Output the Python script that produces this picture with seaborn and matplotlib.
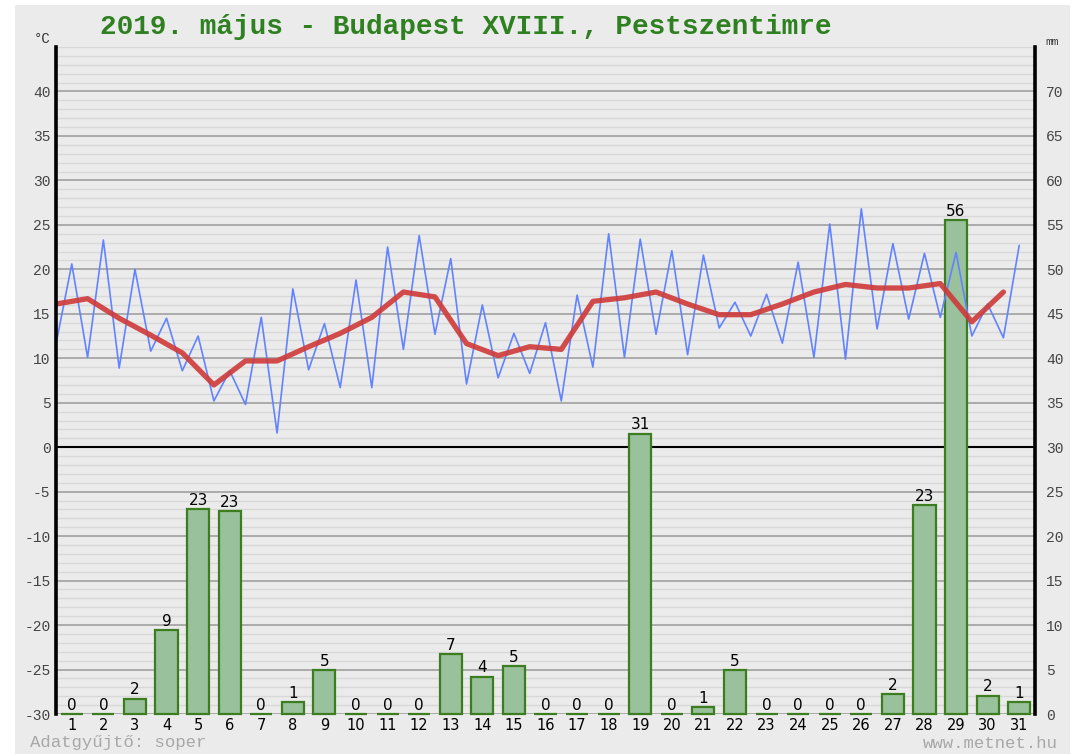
import numpy as np
import seaborn as sns
import matplotlib.pyplot as plt
from matplotlib.patches import Rectangle
from matplotlib.ticker import MultipleLocator

days = np.arange(1, 32)
# daily minimum / maximum temperature (°C)
tmin = [11.6, 10.1, 8.9, 10.8, 8.6, 5.2, 4.8, 1.6, 8.7, 6.7, 6.7, 11.0, 12.7, 7.1, 7.8, 8.3,
        5.2, 9.0, 10.1, 12.7, 10.4, 13.4, 12.5, 11.7, 10.1, 9.9, 13.3, 14.4, 14.6, 12.5, 12.3]
tmax = [20.6, 23.3, 20.0, 14.5, 12.5, 8.6, 14.6, 17.8, 13.9, 18.8, 22.5, 23.8, 21.2, 16.0, 12.8, 14.0,
        17.1, 24.0, 23.4, 22.1, 21.6, 16.3, 17.2, 20.8, 25.1, 26.8, 22.9, 21.8, 21.9, 16.1, 22.7]
# daily mean temperature (°C)
tmean = [16.1, 16.7, 14.5, 12.6, 10.6, 7.0, 9.7, 9.7, 11.3, 12.8, 14.6, 17.45, 16.9, 11.65, 10.3, 11.3,
         11.0, 16.4, 16.8, 17.45, 16.1, 14.9, 14.9, 16.1, 17.45, 18.3, 17.9, 17.9, 18.4, 14.1, 17.45]
# precipitation (mm)
precip = [0, 0, 1.7, 9.4, 23.0, 22.8, 0, 1.3, 4.9, 0, 0, 0, 6.7, 4.2, 5.4, 0,
          0, 0, 31.5, 0, 0.75, 4.9, 0, 0, 0, 0, 2.25, 23.5, 55.5, 2.05, 1.3]
precip_labels = ['0', '0', '2', '9', '23', '23', '0', '1', '5', '0', '0', '0', '7', '4', '5', '0',
                 '0', '0', '31', '0', '1', '5', '0', '0', '0', '0', '2', '23', '56', '2', '1']

sns.set_style('white')
plt.rcParams['font.family'] = ['DejaVu Sans']
mono = 'Liberation Mono'
bg = '#ebebeb'

fig = plt.figure(figsize=(10.82, 7.54), dpi=100)
fig.patch.set_facecolor('white')
fig.add_artist(Rectangle((15 / 1082, 0), 1055 / 1082, 749 / 754, transform=fig.transFigure,
                         facecolor=bg, edgecolor='none', zorder=-10))

ax = fig.add_axes([56 / 1082, 40 / 754, 979 / 1082, 667 / 754])
ax.set_facecolor(bg)

# precipitation bars (right axis, mm)
sns.barplot(x=days, y=precip, native_scale=True, ax=ax, width=0.7, color='#99c19b',
            saturation=1, edgecolor='#3b7d1f', linewidth=1.6, errorbar=None)
for p in ax.containers[0]:
    p.set_clip_on(False)
ax.bar_label(ax.containers[0], labels=precip_labels, padding=1, fontsize=11, color='black')
ax.set_ylim(0, 75)
ax.set_xlim(0.5, 31.5)
ax.set_axisbelow(True)
ax.yaxis.set_major_locator(MultipleLocator(5))
ax.yaxis.set_minor_locator(MultipleLocator(1))
ax.grid(which='major', axis='y', color='#a0a0a0', lw=1.2)
ax.grid(which='minor', axis='y', color='#d8d8d8', lw=1.0)
ax.grid(False, axis='x')
ax.axhline(30, color='black', lw=1.5, zorder=0.8)
ax.set_xticks(days)
ax.set_xticklabels([str(d) for d in days], fontsize=10.5, color='black')
ax.tick_params(axis='both', which='both', length=0)
ax.tick_params(axis='x', pad=3)
ax.set_xlabel('')
ax.set_ylabel('')
for s in ax.spines.values():
    s.set_visible(False)

# temperature lines (left axis, °C)
ax_t = ax.twinx()
ax_t.set_ylim(-30, 45)
x_line = np.ravel(np.column_stack([days - 0.5, days]))
y_line = np.ravel(np.column_stack([tmin, tmax]))
sns.lineplot(x=x_line, y=y_line, ax=ax_t, color='#6283ff', lw=1.2)
sns.lineplot(x=days - 0.5, y=tmean, ax=ax_t, color='#cf3a3a', lw=3.8, alpha=0.9)
ax_t.yaxis.tick_left()
ax_t.yaxis.set_label_position('left')
ax_t.set_yticks(range(-30, 45, 5))
ax_t.set_yticklabels([str(v) for v in range(-30, 45, 5)], family=mono, fontsize=10.5, color='#444444')
ax_t.tick_params(axis='y', length=0, pad=4)
ax_t.set_xlim(0.5, 31.5)
ax_t.set_xlabel('')
ax_t.set_ylabel('')
for side in ['top', 'bottom']:
    ax_t.spines[side].set_visible(False)
for side in ['left', 'right']:
    ax_t.spines[side].set_visible(True)
    ax_t.spines[side].set_color('black')
    ax_t.spines[side].set_linewidth(2.6)

# mm labels on the right (twinx resets the original axis to the left)
ax.yaxis.tick_right()
ax.set_yticks(range(0, 75, 5))
ax.set_yticklabels([str(v) for v in range(0, 75, 5)], family=mono, fontsize=10.5, color='#444444')
ax.tick_params(axis='y', which='both', length=0, pad=8, left=False, labelleft=False,
               right=True, labelright=True)

fig.text(100 / 1082, 1 - 27 / 754, '2019. május - Budapest XVIII., Pestszentimre',
         family=mono, fontweight='bold', fontsize=20, color='#2e8020', ha='left', va='center')
fig.text(42 / 1082, 1 - 39 / 754, '°C', family=mono, fontsize=10, color='#333333', ha='center', va='center')
fig.text(1052 / 1082, 1 - 42 / 754, 'mm', family=mono, fontsize=8, color='#333333', ha='center', va='center')
fig.text(30 / 1082, 1 - 743 / 754, 'Adatgyűjtő: soper', family=mono, fontsize=12.5,
         color='#a8a8a8', ha='left', va='center')
fig.text(1058 / 1082, 1 - 743 / 754, 'www.metnet.hu', family=mono, fontsize=12.5,
         color='#a8a8a8', ha='right', va='center')

fig.savefig('out.png', dpi=100, facecolor=fig.get_facecolor())
